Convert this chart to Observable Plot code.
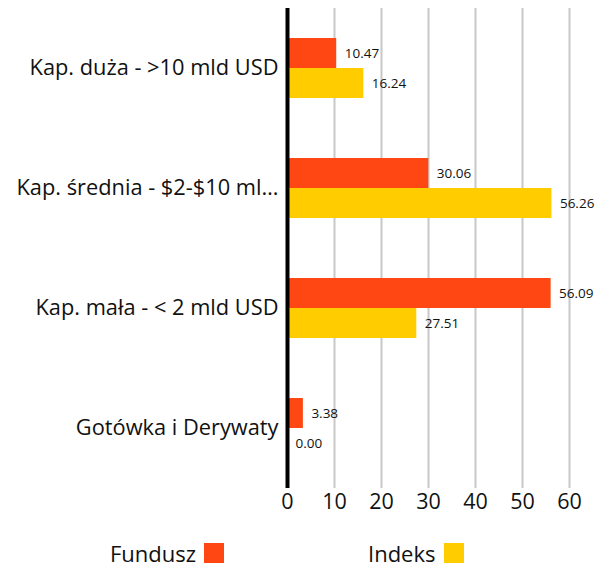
<!DOCTYPE html>
<html>
<head>
<meta charset="utf-8">
<script src="https://cdn.jsdelivr.net/npm/d3@7"></script>
<script src="https://cdn.jsdelivr.net/npm/@observablehq/plot@0.6"></script>
<style>
  body { margin: 0; background: #fff; font-family: "Open Sans", sans-serif; }
  #wrap { position: relative; width: 612px; height: 572px; }
  .leg { position: absolute; top: 540px; font-size: 22px; color: #111; display: flex; align-items: center; line-height: 26px; }
  .sw { width: 20px; height: 20px; margin-left: 8px; display: inline-block; }
</style>
</head>
<body>
<div id="wrap"></div>
<script>
const categories = ["Kap. duża - >10 mld USD", "Kap. średnia - $2-$10 ml…", "Kap. mała - < 2 mld USD", "Gotówka i Derywaty"];
const fundusz = [10.47, 30.06, 56.09, 3.38];
const indeks = [16.24, 56.26, 27.51, 0.00];
const seriesNames = ["Fundusz", "Indeks"];
const colors = ["#FF4713", "#FFCC00"];
const xTicks = [0, 10, 20, 30, 40, 50, 60];

const fData = categories.map((c, i) => ({cat: c, v: fundusz[i]}));
const iData = categories.map((c, i) => ({cat: c, v: indeks[i]}));

const chart = Plot.plot({
  width: 612,
  height: 525,
  marginLeft: 287,
  marginRight: 43,
  marginTop: 8,
  marginBottom: 37,
  style: {fontFamily: "'Open Sans', sans-serif", background: "#fff"},
  x: {domain: [0, 60], ticks: xTicks, label: null},
  y: {domain: categories, paddingInner: 0.5, paddingOuter: 0.25, label: null},
  marks: [
    Plot.ruleX(xTicks.filter(d => d > 0), {stroke: "#c8c8c8", strokeWidth: 2}),
    Plot.axisX({ticks: xTicks, tickSize: 0, tickPadding: 5, fontSize: 21.5, fill: "#111", tickFormat: d => d, label: null}),
    Plot.axisY({tickSize: 0, tickPadding: 9, fontSize: 21.8, fill: "#111", label: null}),
    Plot.barX(fData, {x: "v", y: "cat", fill: colors[0], insetBottom: 30}),
    Plot.barX(iData, {x: "v", y: "cat", fill: colors[1], insetTop: 30}),
    Plot.text(fData, {x: "v", y: "cat", text: d => d.v.toFixed(2), dx: 8, dy: -15, textAnchor: "start", fontSize: 13.5, fill: "#111"}),
    Plot.text(iData, {x: "v", y: "cat", text: d => d.v.toFixed(2), dx: 8, dy: 15, textAnchor: "start", fontSize: 13.5, fill: "#111"}),
    Plot.ruleX([0], {stroke: "#000", strokeWidth: 4})
  ]
});
const wrap = document.getElementById("wrap");
wrap.appendChild(chart);

const legPos = [110, 368];
seriesNames.forEach((n, i) => {
  const d = document.createElement("div");
  d.className = "leg";
  d.style.left = legPos[i] + "px";
  d.innerHTML = `<span>${n}</span><span class="sw" style="background:${colors[i]}"></span>`;
  wrap.appendChild(d);
});
</script>
</body>
</html>
